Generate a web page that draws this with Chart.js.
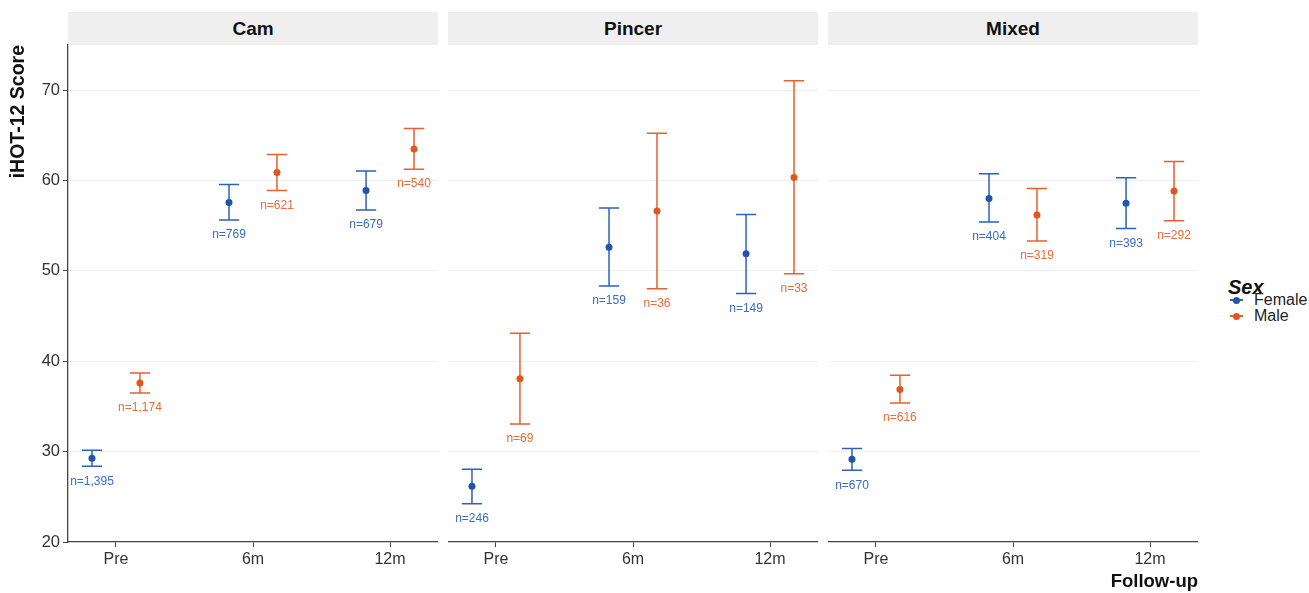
<!DOCTYPE html>
<html>
<head>
<meta charset="utf-8">
<script src="https://cdn.jsdelivr.net/npm/chart.js@4.4.1/dist/chart.umd.min.js"></script>
<style>
  body { margin: 0; background: #fff; font-family: "Liberation Sans", Arial, sans-serif; }
  #wrap { position: relative; width: 1309px; height: 593px; overflow: hidden; }
  canvas { position: absolute; top: 0; }
  .strip { position: absolute; top: 12px; width: 370px; height: 33px; background: #EFEFEF;
           font-weight: bold; font-size: 19px; line-height: 33px; text-align: center; color: #111; }
  .legend-title { position: absolute; left: 1228px; top: 276px; font-size: 20px; font-weight: bold;
                  font-style: italic; line-height: 22px; color: #111; }
  .legend-item { position: absolute; left: 1254px; font-size: 16px; line-height: 16px; color: #222; }
  .key { position: absolute; left: 1230px; width: 13px; height: 2px; }
  .dot { position: absolute; left: 1233px; width: 7px; height: 7px; border-radius: 50%; }
</style>
</head>
<body>
<div id="wrap">
  <div class="strip" style="left:68px">Cam</div>
  <div class="strip" style="left:448px">Pincer</div>
  <div class="strip" style="left:828px">Mixed</div>

  <canvas id="panel-0" width="438" height="593" style="left:0px"></canvas>
  <canvas id="panel-1" width="370" height="593" style="left:448px"></canvas>
  <canvas id="panel-2" width="370" height="593" style="left:828px"></canvas>

  <div class="legend-title">Sex</div>
  <div class="key" style="top:299px;background:#2D62B8"></div>
  <div class="dot" style="top:296.5px;background:#2255A8"></div>
  <div class="legend-item" style="top:292px">Female</div>
  <div class="key" style="top:315px;background:#E8602C"></div>
  <div class="dot" style="top:312.5px;background:#E0561F"></div>
  <div class="legend-item" style="top:308px">Male</div>
</div>

<script>
const categories = ['Pre', '6m', '12m'];
const panelNames = ['Cam', 'Pincer', 'Mixed'];
const yTicks = [20, 30, 40, 50, 60, 70];

// Cam
const camFemaleMean = [29.26, 57.58, 58.90];
const camFemaleLow  = [28.37, 55.62, 56.73];
const camFemaleHigh = [30.14, 59.57, 61.07];
const camFemaleN    = ['1,395', '769', '679'];
const camMaleMean   = [37.60, 60.90, 63.50];
const camMaleLow    = [36.50, 58.90, 61.26];
const camMaleHigh   = [38.70, 62.89, 65.76];
const camMaleN      = ['1,174', '621', '540'];

// Pincer
const pincerFemaleMean = [26.16, 52.63, 51.89];
const pincerFemaleLow  = [24.24, 48.32, 47.51];
const pincerFemaleHigh = [28.04, 56.95, 56.25];
const pincerFemaleN    = ['246', '159', '149'];
const pincerMaleMean   = [38.07, 56.62, 60.34];
const pincerMaleLow    = [33.05, 48.02, 49.68];
const pincerMaleHigh   = [43.09, 65.24, 71.03];
const pincerMaleN      = ['69', '36', '33'];

// Mixed
const mixedFemaleMean = [29.15, 58.02, 57.50];
const mixedFemaleLow  = [27.93, 55.40, 54.70];
const mixedFemaleHigh = [30.36, 60.74, 60.30];
const mixedFemaleN    = ['670', '404', '393'];
const mixedMaleMean   = [36.89, 56.20, 58.83];
const mixedMaleLow    = [35.38, 53.30, 55.54];
const mixedMaleHigh   = [38.44, 59.13, 62.11];
const mixedMaleN      = ['616', '319', '292'];

const DODGE = 0.175;
const CAP_HALF = 0.074;

Chart.defaults.font.family = '"Liberation Sans", Arial, sans-serif';

const panels = [
  { female: [camFemaleMean, camFemaleLow, camFemaleHigh, camFemaleN], male: [camMaleMean, camMaleLow, camMaleHigh, camMaleN] },
  { female: [pincerFemaleMean, pincerFemaleLow, pincerFemaleHigh, pincerFemaleN], male: [pincerMaleMean, pincerMaleLow, pincerMaleHigh, pincerMaleN] },
  { female: [mixedFemaleMean, mixedFemaleLow, mixedFemaleHigh, mixedFemaleN], male: [mixedMaleMean, mixedMaleLow, mixedMaleHigh, mixedMaleN] }
];

function toPoints(series, shift) {
  const [mean, low, high, n] = series;
  return categories.map((c, i) => ({ x: i + 1 + shift, y: mean[i], low: low[i], high: high[i], n: n[i] }));
}

// error bars + n= labels, drawn under the points
const errorBars = {
  id: 'errorBars',
  beforeDatasetsDraw(chart) {
    const { ctx, scales: { x, y } } = chart;
    chart.data.datasets.forEach(ds => {
      ds.data.forEach(d => {
        const px = x.getPixelForValue(d.x);
        const lo = y.getPixelForValue(d.low);
        const hi = y.getPixelForValue(d.high);
        const l = x.getPixelForValue(d.x - CAP_HALF);
        const r = x.getPixelForValue(d.x + CAP_HALF);
        ctx.save();
        ctx.strokeStyle = ds.barColor;
        ctx.lineWidth = 1.5;
        ctx.beginPath();
        ctx.moveTo(px, hi); ctx.lineTo(px, lo);
        ctx.moveTo(l, hi); ctx.lineTo(r, hi);
        ctx.moveTo(l, lo); ctx.lineTo(r, lo);
        ctx.stroke();
        ctx.fillStyle = ds.labelColor;
        ctx.font = '12px "Liberation Sans", Arial, sans-serif';
        ctx.textAlign = 'center';
        ctx.textBaseline = 'middle';
        ctx.fillText('n=' + d.n, px, lo + 15);
        ctx.restore();
      });
    });
  }
};

panels.forEach((p, k) => {
  const first = k === 0;
  const last = k === panels.length - 1;
  new Chart(document.getElementById('panel-' + k), {
    type: 'scatter',
    data: {
      datasets: [
        { label: 'Female', data: toPoints(p.female, -DODGE), backgroundColor: '#2255A8', barColor: '#2D62B8', labelColor: '#3A6CC2',
          pointRadius: 3.5, pointBorderWidth: 0 },
        { label: 'Male', data: toPoints(p.male, DODGE), backgroundColor: '#E0561F', barColor: '#E8602C', labelColor: '#E86A38',
          pointRadius: 3.5, pointBorderWidth: 0 }
      ]
    },
    options: {
      responsive: false,
      animation: false,
      layout: { autoPadding: false, padding: { top: 45, left: 0, right: 0, bottom: 0 } },
      plugins: { legend: { display: false }, tooltip: { enabled: false } },
      scales: {
        x: {
          type: 'linear', min: 0.65, max: 3.35,
          afterBuildTicks: s => { s.ticks = categories.map((c, i) => ({ value: i + 1 })); },
          afterFit: s => { s.height = 51; },
          ticks: { callback: v => categories[Math.round(v) - 1], color: '#333', font: { size: 16 }, padding: 3, maxRotation: 0, autoSkip: false },
          grid: { drawOnChartArea: false, tickColor: '#444', tickLength: 5 },
          border: { color: '#444', width: 1.3 },
          title: { display: last, text: 'Follow-up', align: 'end', color: '#111', font: { size: 18.5, weight: 'bold' }, padding: { top: 0, bottom: 0 } }
        },
        y: {
          min: 20, max: 75,
          afterBuildTicks: s => { s.ticks = yTicks.map(v => ({ value: v })); },
          afterFit: s => { s.width = first ? 68 : 0; },
          ticks: { display: first, color: '#333', font: { size: 16.5 }, padding: 3 },
          grid: { color: c => (c.tick && c.tick.value === 20) ? 'rgba(0,0,0,0)' : '#F0F0F0', tickColor: '#444', tickLength: 5, drawTicks: first },
          border: { display: first, color: '#444', width: 1.3 },
          title: { display: first, text: 'iHOT-12 Score', align: 'end', color: '#111', font: { size: 19.5, weight: 'bold' }, padding: { top: 7, bottom: 0 } }
        }
      }
    },
    plugins: [errorBars]
  });
});
</script>
</body>
</html>
